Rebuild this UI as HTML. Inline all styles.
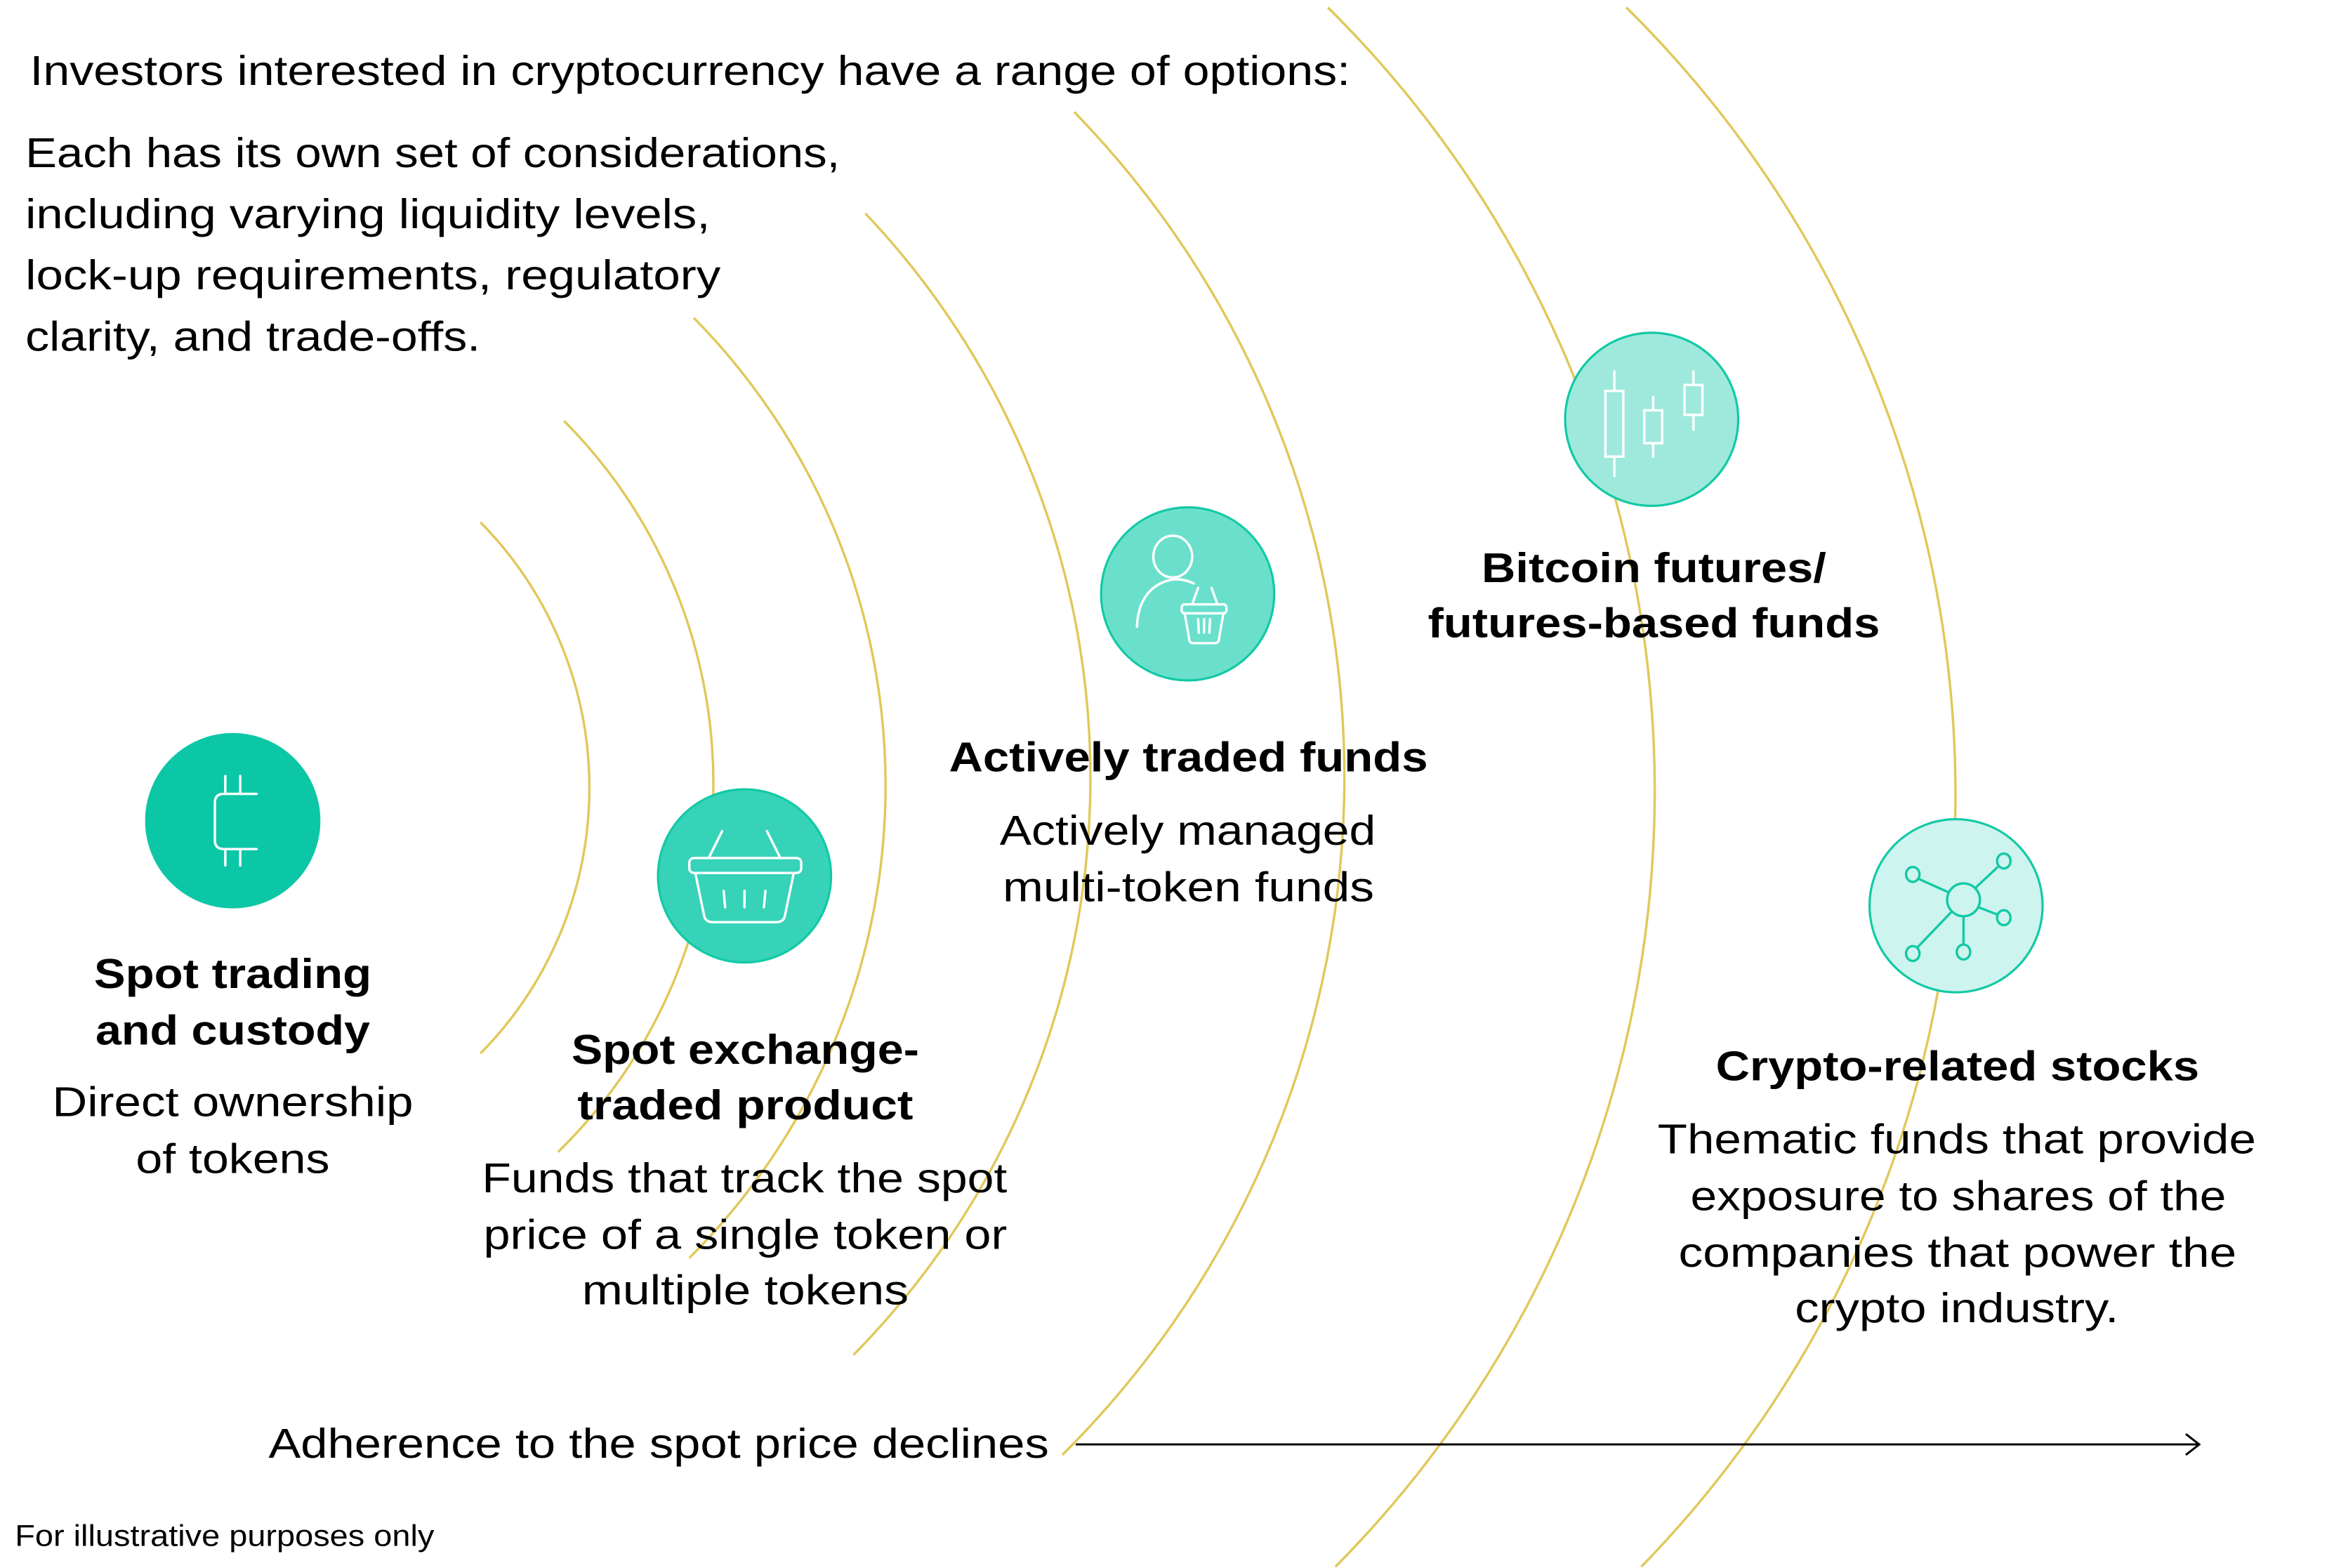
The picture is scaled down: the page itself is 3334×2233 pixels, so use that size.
<!DOCTYPE html>
<html><head><meta charset="utf-8"><style>
html,body{margin:0;padding:0;background:#fff;}
svg{display:block;}
text{font-family:"Liberation Sans",sans-serif;fill:#000;}
.b{font-weight:bold;}
</style></head><body>
<svg width="3334" height="2233" viewBox="0 0 1569 1050.8" preserveAspectRatio="none" xmlns="http://www.w3.org/2000/svg">
<rect width="1600" height="1100" fill="#fff"/>
<g fill="none" stroke="#e0c85a" stroke-width="1.6">
<path d="M322,350 A253.5,253.5 0 0 1 322,706"/>
<path d="M378,282 A345,345 0 0 1 374,772"/>
<path d="M465,213 A446.6,446.6 0 0 1 462,843"/>
<path d="M580,143 A550,550 0 0 1 572,908"/>
<path d="M720,75 A639.8,639.8 0 0 1 712,975"/>
<path d="M890,5 A738.7,738.7 0 0 1 895,1050"/>
<path d="M1090,5 A741,741 0 0 1 1100,1050"/>
</g>
<g font-size="28">
<text x="20" y="57" textLength="885" lengthAdjust="spacingAndGlyphs">Investors interested in cryptocurrency have a range of options:</text>
<text x="17" y="112" textLength="546" lengthAdjust="spacingAndGlyphs">Each has its own set of considerations,</text>
<text x="17" y="153" textLength="459" lengthAdjust="spacingAndGlyphs">including varying liquidity levels,</text>
<text x="17" y="194" textLength="466" lengthAdjust="spacingAndGlyphs">lock-up requirements, regulatory</text>
<text x="17" y="235" textLength="305" lengthAdjust="spacingAndGlyphs">clarity, and trade-offs.</text>

<text class="b" x="63" y="662" textLength="186" lengthAdjust="spacingAndGlyphs">Spot trading</text>
<text class="b" x="64" y="700" textLength="184" lengthAdjust="spacingAndGlyphs">and custody</text>
<text x="35" y="748" textLength="242" lengthAdjust="spacingAndGlyphs">Direct ownership</text>
<text x="91" y="786" textLength="130" lengthAdjust="spacingAndGlyphs">of tokens</text>

<text class="b" x="383" y="713" textLength="233" lengthAdjust="spacingAndGlyphs">Spot exchange-</text>
<text class="b" x="387" y="750" textLength="225" lengthAdjust="spacingAndGlyphs">traded product</text>
<text x="323" y="799" textLength="352" lengthAdjust="spacingAndGlyphs">Funds that track the spot</text>
<text x="324" y="837" textLength="351" lengthAdjust="spacingAndGlyphs">price of a single token or</text>
<text x="390" y="874" textLength="219" lengthAdjust="spacingAndGlyphs">multiple tokens</text>

<text class="b" x="636" y="517" textLength="321" lengthAdjust="spacingAndGlyphs">Actively traded funds</text>
<text x="670" y="566" textLength="252" lengthAdjust="spacingAndGlyphs">Actively managed</text>
<text x="672" y="604" textLength="249" lengthAdjust="spacingAndGlyphs">multi-token funds</text>

<text class="b" x="993" y="390" textLength="231" lengthAdjust="spacingAndGlyphs">Bitcoin futures/</text>
<text class="b" x="957" y="427" textLength="303" lengthAdjust="spacingAndGlyphs">futures-based funds</text>

<text class="b" x="1150" y="724" textLength="324" lengthAdjust="spacingAndGlyphs">Crypto-related stocks</text>
<text x="1111" y="773" textLength="401" lengthAdjust="spacingAndGlyphs">Thematic funds that provide</text>
<text x="1133" y="811" textLength="359" lengthAdjust="spacingAndGlyphs">exposure to shares of the</text>
<text x="1125" y="849" textLength="374" lengthAdjust="spacingAndGlyphs">companies that power the</text>
<text x="1203" y="886" textLength="217" lengthAdjust="spacingAndGlyphs">crypto industry.</text>

<text x="180" y="977" textLength="523" lengthAdjust="spacingAndGlyphs">Adherence to the spot price declines</text>
</g>
<text x="10" y="1036" font-size="20" textLength="281" lengthAdjust="spacingAndGlyphs">For illustrative purposes only</text>
<g stroke="#000" stroke-width="1.4" fill="none">
<line x1="721" y1="968" x2="1474" y2="968"/>
<polyline points="1465,961 1474,968 1465,975"/>
</g>
<circle cx="156" cy="550" r="58" fill="#0cc7a6" stroke="#0cc7a6" stroke-width="1.5"/>
<circle cx="499" cy="587" r="58" fill="#36d3b9" stroke="#12c9a5" stroke-width="1.5"/>
<circle cx="796" cy="398" r="58" fill="#6ae0cc" stroke="#12c9a5" stroke-width="1.5"/>
<circle cx="1107" cy="281" r="58" fill="#9fe9dc" stroke="#12c9a5" stroke-width="1.5"/>
<circle cx="1311" cy="607" r="58" fill="#cdf4ee" stroke="#12c9a5" stroke-width="1.5"/>
<g fill="none" stroke="#fff" stroke-width="1.6" stroke-linecap="round">
<path d="M172,532 L150,532 Q144,532 144,538 L144,563 Q144,569 150,569 L172,569"/>
<path d="M151,520 V532 M161,520 V532 M151,569 V580 M161,569 V580"/>
<path d="M475,575 L484,557 M523,575 L514,557"/>
<rect x="462" y="575" width="75" height="10" rx="3"/>
<path d="M466,585 L472,614 Q473,618 478,618 L520,618 Q525,618 526,614 L532,585"/>
<path d="M485,597 L486,608 M499,597 V608 M513,597 L512,608"/>
<ellipse cx="786" cy="373" rx="13" ry="14"/>
<path d="M800,391 Q790,386 780,390 Q763,397 762,420"/>
<path d="M799,405 L803,394 M816,405 L812,394"/>
<rect x="792" y="405" width="30" height="6" rx="2"/>
<path d="M794,411 L797,428 Q797,431 800,431 L814,431 Q817,431 817,428 L820,411"/>
<path d="M803,415 L803.5,424 M807,415 V424 M811,415 L810.5,424"/>
<path d="M1082,249 V262 M1082,306 V319 M1108,266 V275 M1108,297 V306 M1135,249 V258 M1135,278 V288"/>
<rect x="1076" y="262" width="12" height="44"/>
<rect x="1102" y="275" width="12" height="22"/>
<rect x="1129" y="258" width="12" height="20"/>
</g>
<g fill="none" stroke="#12c9a5" stroke-width="1.6">
<circle cx="1316" cy="603" r="11"/>
<ellipse cx="1343" cy="577" rx="4.5" ry="5"/>
<ellipse cx="1282" cy="586" rx="4.5" ry="5"/>
<ellipse cx="1343" cy="615" rx="4.5" ry="5"/>
<ellipse cx="1282" cy="639" rx="4.5" ry="5"/>
<ellipse cx="1316" cy="638" rx="4.5" ry="5"/>
<path d="M1324,595 L1339,581 M1286,589 L1306,598 M1326,608 L1339,613 M1308,611 L1285,635 M1316,614 V633"/>
</g>
</svg>
</body></html>
